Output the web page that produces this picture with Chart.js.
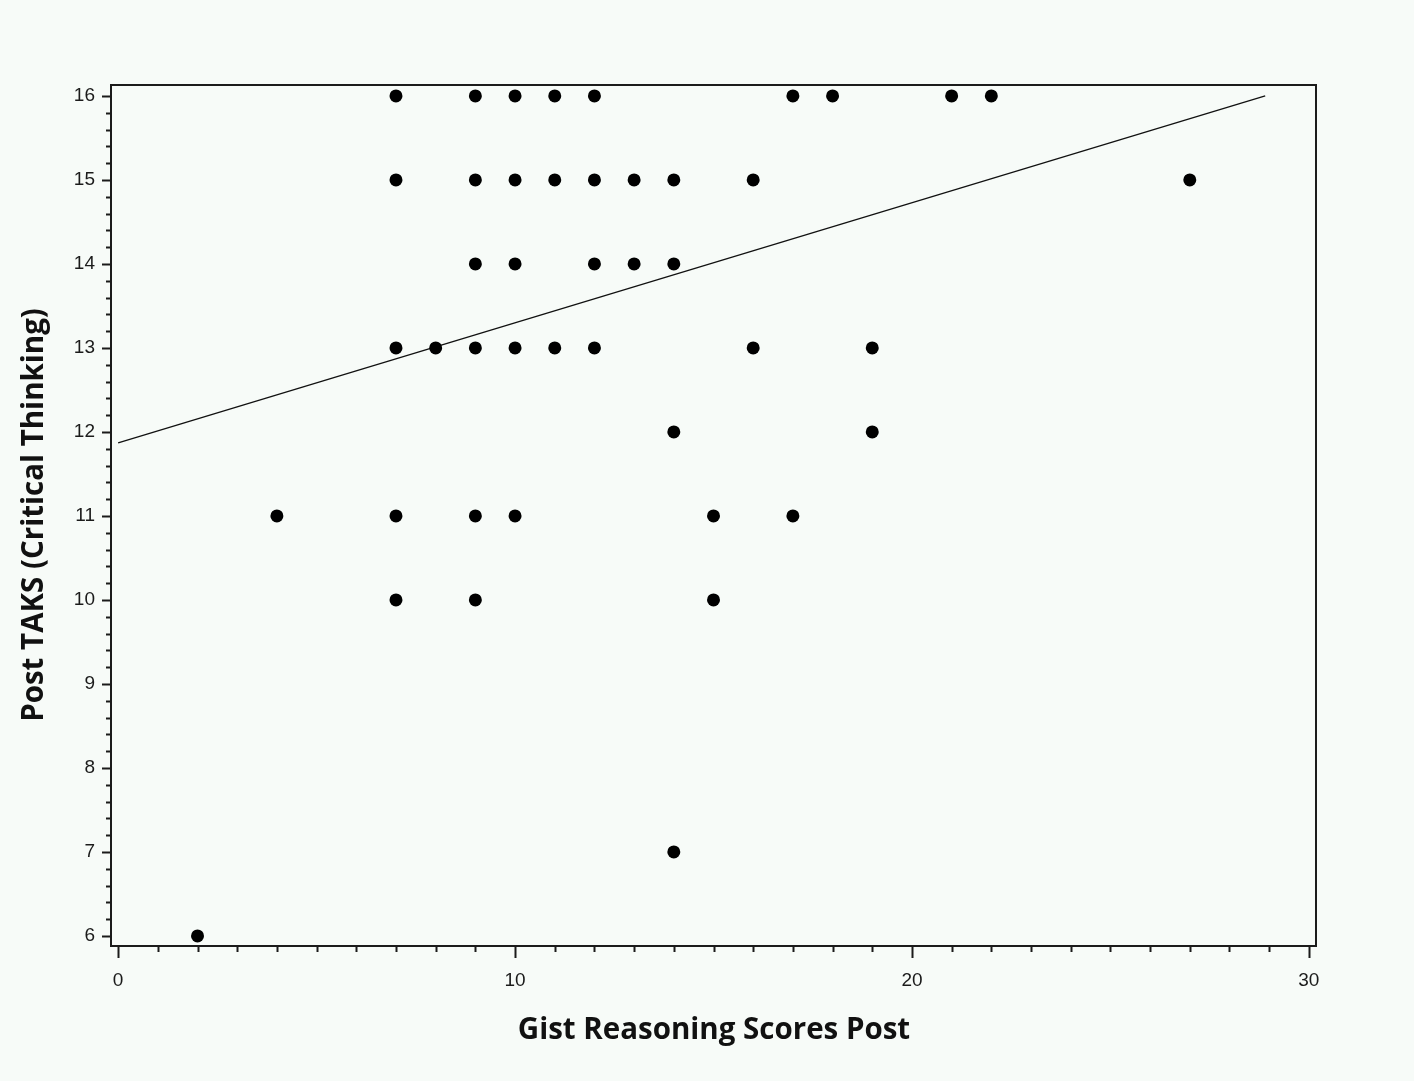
<!DOCTYPE html>
<html>
<head>
<meta charset="utf-8">
<script src="https://cdn.jsdelivr.net/npm/chart.js@4/dist/chart.umd.min.js"></script>
<style>
  html, body { margin: 0; padding: 0; background: #f7fbf8; }
  #wrap { width: 1414px; height: 1081px; }
</style>
</head>
<body>
<div id="wrap"><canvas id="chart_1" width="1414" height="1081"></canvas></div>
<script>
// Gist reasoning score (x) vs post TAKS critical thinking (y)
const gistScores = [7, 9, 10, 11, 12, 17, 18, 21, 22,
                    7, 9, 10, 11, 12, 13, 14, 16, 27,
                    9, 10, 12, 13, 14,
                    7, 8, 9, 10, 11, 12, 16, 19,
                    14, 19,
                    4, 7, 9, 10, 15, 17,
                    7, 9, 15,
                    14,
                    2];
const taksScores = [16, 16, 16, 16, 16, 16, 16, 16, 16,
                    15, 15, 15, 15, 15, 15, 15, 15, 15,
                    14, 14, 14, 14, 14,
                    13, 13, 13, 13, 13, 13, 13, 13,
                    12, 12,
                    11, 11, 11, 11, 11, 11,
                    10, 10, 10,
                    7,
                    6];
// fitted line end points
const fitX = [0, 28.9];
const fitY = [11.87, 16.0];

const xTickLabels = [0, 10, 20, 30];
const yTickLabels = [6, 7, 8, 9, 10, 11, 12, 13, 14, 15, 16];

const ink = '#1b1b1b';
const tickFont = { family: 'Liberation Sans, Arial, sans-serif', size: 19 };

const framePlugin = {
  id: 'frame',
  beforeDraw(chart) {
    const ctx = chart.ctx;
    ctx.save();
    ctx.fillStyle = '#f7fbf8';
    ctx.fillRect(0, 0, chart.width, chart.height);
    ctx.restore();
  },
  afterDraw(chart) {
    const ctx = chart.ctx;
    const a = chart.chartArea;
    const xs = chart.scales.x, ys = chart.scales.y;
    ctx.save();
    ctx.strokeStyle = ink;
    ctx.lineWidth = 2;
    ctx.strokeRect(a.left, a.top, a.right - a.left, a.bottom - a.top);

    // x ticks: major every 10, minor every 1
    for (let v = 0; v <= 30; v++) {
      const px = Math.round(xs.getPixelForValue(v)) + 0.5;
      const len = v % 10 === 0 ? 12 : 6;
      ctx.beginPath();
      ctx.moveTo(px, a.bottom);
      ctx.lineTo(px, a.bottom + len);
      ctx.stroke();
    }
    // y ticks: major every 1, minor every 0.2
    for (let i = 30; i <= 80; i++) {
      const v = i / 5;
      const py = Math.round(ys.getPixelForValue(v)) + 0.5;
      const len = i % 5 === 0 ? 9 : 5;
      ctx.beginPath();
      ctx.moveTo(a.left, py);
      ctx.lineTo(a.left - len, py);
      ctx.stroke();
    }

    // axis titles
    ctx.fillStyle = '#111';
    ctx.font = 'bold 29.5px "Open Sans", sans-serif';
    ctx.textAlign = 'center';
    ctx.textBaseline = 'middle';
    ctx.fillText('Gist Reasoning Scores Post', 714, 1031);
    ctx.translate(35, 515);
    ctx.rotate(-Math.PI / 2);
    ctx.fillText('Post TAKS (Critical Thinking)', 0, 0);
    ctx.restore();
  }
};

const points = gistScores.map((x, i) => ({ x: x, y: taksScores[i] }));
const fitLine = fitX.map((x, i) => ({ x: x, y: fitY[i] }));

new Chart(document.getElementById('chart_1').getContext('2d'), {
  type: 'scatter',
  data: {
    datasets: [
      {
        data: points,
        pointRadius: 6.5,
        pointHoverRadius: 6.5,
        pointBackgroundColor: '#000',
        pointBorderWidth: 0,
        showLine: false
      },
      {
        type: 'line',
        data: fitLine,
        borderColor: '#111',
        borderWidth: 1.3,
        pointRadius: 0,
        fill: false
      }
    ]
  },
  options: {
    responsive: false,
    animation: false,
    events: [],
    layout: { padding: { left: 0, top: 85, right: 98, bottom: 0 } },
    plugins: { legend: { display: false }, tooltip: { enabled: false } },
    scales: {
      x: {
        type: 'linear',
        min: -0.18,
        max: 30.18,
        grid: { display: false, drawTicks: false },
        border: { display: false },
        afterBuildTicks(scale) { scale.ticks = xTickLabels.map(v => ({ value: v })); },
        afterFit(scale) { scale.height = 135; },
        ticks: { color: ink, font: tickFont, padding: 23, maxRotation: 0 }
      },
      y: {
        type: 'linear',
        min: 5.88,
        max: 16.13,
        grid: { display: false, drawTicks: false },
        border: { display: false },
        afterBuildTicks(scale) { scale.ticks = yTickLabels.map(v => ({ value: v })); },
        afterFit(scale) { scale.width = 111; },
        ticks: { color: ink, font: tickFont, padding: 16 }
      }
    }
  },
  plugins: [framePlugin]
});
</script>
</body>
</html>
